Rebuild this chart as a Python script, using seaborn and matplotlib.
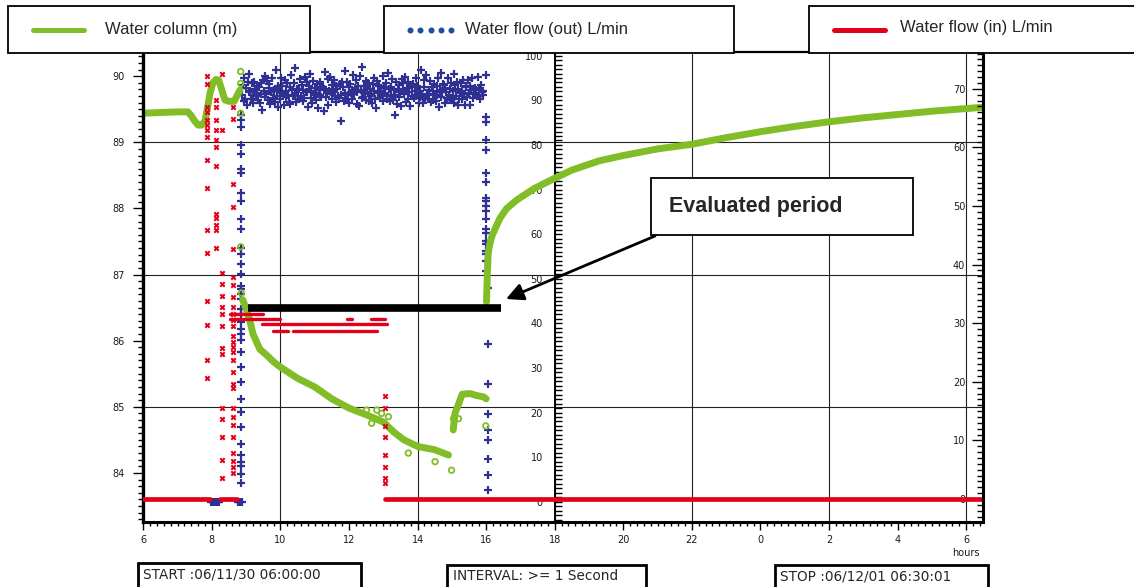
import numpy as np
import pandas as pd
import matplotlib.pyplot as plt
import matplotlib.transforms as mtransforms
from matplotlib.patches import Rectangle, FancyArrowPatch
from matplotlib.lines import Line2D
from matplotlib.ticker import MultipleLocator, FixedLocator, FixedFormatter
import seaborn as sns

# ---- water column (m), left axis ----
col_a_hours = [6.0, 6.5, 7.0, 7.3, 7.4, 7.5, 7.6, 7.7, 7.8, 7.88, 7.95, 8.03, 8.12, 8.2, 8.29,
               8.38, 8.5, 8.65, 8.72, 8.82]
col_a_level = [89.44, 89.45, 89.46, 89.46, 89.4, 89.32, 89.26, 89.26, 89.32, 89.55, 89.75, 89.9,
               89.95, 89.94, 89.79, 89.64, 89.62, 89.62, 89.69, 89.79]
col_b_hours = [8.9, 9.0, 9.1, 9.2, 9.4, 9.6, 9.8, 10.0, 10.5, 11.0, 11.5, 12.0, 12.5, 13.0,
               13.3, 13.6, 14.0, 14.5, 14.9]
col_b_level = [86.62, 86.48, 86.32, 86.1, 85.87, 85.78, 85.68, 85.6, 85.43, 85.3, 85.12, 84.98,
               84.88, 84.77, 84.62, 84.5, 84.4, 84.35, 84.27]
col_c_hours = [15.04, 15.09, 15.14, 15.19, 15.25, 15.3, 15.53, 15.72, 15.92, 16.0]
col_c_level = [84.65, 84.9, 84.97, 85.03, 85.12, 85.19, 85.2, 85.17, 85.15, 85.12]
col_d_hours = [16.01, 16.04, 16.06, 16.1, 16.16, 16.25, 16.4, 16.6, 16.9, 17.4, 17.9, 18.5,
               19.3, 20.0, 21.0, 22.0, 23.0, 24.0, 25.0, 26.0, 27.0, 28.0, 29.0, 30.0, 30.5]
col_d_level = [86.59, 87.09, 87.32, 87.45, 87.57, 87.68, 87.85, 88.0, 88.13, 88.3, 88.43, 88.58,
               88.72, 88.8, 88.9, 88.97, 89.07, 89.16, 89.24, 89.31, 89.37, 89.42, 89.47, 89.51,
               89.53]
col_pts_hours = [8.84, 8.84, 8.84, 8.84, 8.86, 12.51, 12.66, 12.81, 12.95, 13.15, 13.73, 14.51,
                 14.99, 15.05, 15.19, 15.99]
col_pts_level = [90.07, 89.89, 89.44, 87.42, 86.72, 84.95, 84.75, 84.95, 84.9, 84.85, 84.3, 84.17,
                 84.04, 84.82, 84.82, 84.71]

# ---- water flow out (L/min), middle axis ----
out_band_start, out_band_end = 8.88, 15.92
out_band = [
    91.2, 93.5, 89.8, 95.1, 90.4, 92.7, 88.9, 94.2, 91.8, 96.0,
    92.0, 90.3, 93.8, 91.1, 89.5, 94.0, 92.5, 90.9, 93.3, 91.7,
    90.1, 92.9, 89.3, 93.8, 91.5, 87.9, 94.6, 92.1, 90.7, 95.4,
    91.4, 94.3, 90.0, 92.8, 93.6, 89.2, 91.9, 95.1, 90.6, 92.2,
    92.4, 89.6, 96.8, 91.0, 93.2, 88.4, 92.8, 90.3, 94.9, 91.7,
    93.1, 91.5, 88.9, 94.5, 92.0, 90.8, 93.9, 91.2, 89.7, 92.9,
    89.1, 95.7, 92.3, 90.9, 93.9, 91.4, 97.2, 89.7, 92.6, 90.2,
    90.2, 92.6, 94.8, 91.0, 93.4, 89.9, 92.3, 90.5, 95.3, 91.8,
    94.1, 91.9, 88.6, 93.3, 95.8, 90.6, 92.0, 89.4, 94.4, 91.1,
    92.7, 90.1, 91.6, 93.7, 88.3, 92.4, 94.2, 91.3, 90.7, 93.0,
    93.0, 87.6, 92.5, 96.3, 90.8, 91.6, 94.7, 89.0, 92.2, 95.2,
    91.9, 93.5, 90.4, 92.1, 94.6, 91.0, 89.6, 93.2, 92.6, 90.9,
    90.5, 93.6, 85.4, 91.3, 94.0, 92.9, 89.9, 96.5, 91.7, 90.0,
    94.0, 91.2, 92.9, 89.4, 93.6, 91.7, 90.3, 95.7, 92.2, 91.5,
    92.8, 94.5, 89.2, 91.9, 93.1, 88.7, 95.5, 92.4, 90.6, 97.5,
    90.8, 93.3, 91.8, 94.4, 90.0, 92.7, 93.8, 89.8, 91.4, 92.5,
    91.0, 89.5, 93.7, 92.0, 95.0, 90.3, 88.2, 94.3, 91.6, 93.4,
    93.2, 90.6, 92.0, 91.1, 95.4, 89.9, 92.8, 91.6, 93.9, 90.2,
    90.9, 96.1, 92.6, 89.8, 93.0, 91.2, 94.8, 90.1, 92.3, 86.6,
    91.3, 94.1, 89.1, 92.6, 90.7, 93.5, 91.9, 88.7, 94.7, 92.3,
    93.9, 91.4, 95.3, 89.6, 92.7, 90.4, 94.1, 91.8, 88.8, 93.5,
    92.9, 91.0, 93.7, 90.5, 92.1, 95.0, 90.9, 93.1, 91.7, 89.5,
    92.1, 90.7, 96.7, 91.5, 89.4, 94.6, 92.9, 90.2, 95.6, 91.3,
    90.4, 92.4, 91.5, 94.3, 89.7, 93.0, 92.2, 90.1, 93.6, 91.2,
    89.9, 93.2, 91.1, 94.9, 88.5, 92.4, 90.8, 96.2, 91.9, 93.7,
    93.4, 89.3, 92.7, 91.8, 90.6, 94.9, 91.1, 92.5, 90.0, 93.8,
    90.6, 92.0, 95.9, 89.3, 93.4, 91.0, 94.2, 88.9, 92.6, 90.4,
    91.6, 93.9, 90.3, 92.0, 94.5, 91.4, 89.0, 92.9, 93.3, 90.8,
    94.5, 91.7, 89.0, 93.1, 92.3, 95.0, 90.5, 91.4, 92.8, 91.6,
    92.3, 90.9, 95.2, 91.0, 92.6, 90.2, 93.5, 91.9, 92.1, 91.3,
]
out_rise_hour = 8.85
out_rise = [86.7, 85.6, 84.0, 80.0, 78.0, 74.7, 73.6, 69.3, 67.5, 63.4, 61.2, 56.9, 55.5, 53.3,
            51.0, 48.3, 47.6, 46.5, 45.4, 43.1, 42.0, 40.4, 38.8, 37.7, 36.3, 33.6, 30.2, 26.9,
            23.0, 20.1, 16.7, 12.9, 10.4, 8.8, 8.1, 6.1, 4.3]
out_drop_hi_hour = 16.0
out_drop_hi = [95.7, 86.2, 85.1, 81.0, 78.8, 73.8, 71.6, 68.2, 67.5, 66.4, 65.2, 63.4, 61.2, 60.3,
               58.5, 57.8, 56.2, 55.5, 53.9, 51.7]
out_drop_lo_hour = 16.05
out_drop_lo = [47.9, 35.4, 26.4, 19.6, 16.0, 13.8, 9.5, 5.9, 2.7]
out_zero_hours = [7.97, 8.01, 8.05, 8.09, 8.13, 8.17, 8.21, 8.75, 8.79, 8.83, 8.87]

# ---- water flow in (L/min), right axis ----
in_cols_hours = [7.86, 8.13, 8.29, 8.62, 13.05]
in_cols = [
    [72.1, 70.9, 66.9, 66.1, 64.7, 63.8, 62.9, 61.8, 57.8, 53.0, 45.9, 41.9, 33.8, 29.7, 23.7, 20.7],
    [68.1, 66.9, 64.7, 62.9, 61.2, 60.0, 56.9, 48.7, 47.9, 46.7, 45.9, 42.8],
    [72.6, 62.9, 38.5, 36.7, 34.6, 32.8, 31.6, 29.6, 25.7, 24.8, 15.5, 13.7, 10.6, 6.6, 3.5],
    [66.9, 64.8, 53.8, 49.8, 42.7, 37.9, 36.5, 34.5, 32.8, 31.6, 30.5, 29.6, 27.9, 26.8, 25.9,
     25.1, 23.7, 21.7, 19.7, 18.9, 15.5, 14.0, 12.6, 10.6, 7.8, 6.4, 5.5, 4.4],
    [17.6, 15.5, 12.5, 10.6, 7.5, 5.5, 3.5, 2.7],
]
in_plateau_start = [8.53, 8.53, 9.45, 9.79, 10.37, 11.93, 12.63]
in_plateau_end = [9.50, 9.99, 13.10, 10.23, 12.81, 12.08, 13.05]
in_plateau_level = [31.5, 30.7, 29.8, 28.7, 28.7, 30.7, 30.7]
in_zero_start = [6.0, 8.24, 13.05]
in_zero_end = [7.95, 8.72, 30.5]

# evaluated period bar (left axis units)
eval_start, eval_end, eval_level = 9.06, 16.42, 86.5

x_ticks = [6, 8, 10, 12, 14, 16, 18, 20, 22, 24, 26, 28, 30]
x_labels = ['6', '8', '10', '12', '14', '16', '18', '20', '22', '0', '2', '4', '6']

GREEN = '#80BD26'
NAVY = '#2E3192'
RED = '#E2001A'

sns.set_theme(style='white')
plt.rcParams['font.family'] = ['DejaVu Sans']

W, H = 1134, 587


def fx(px):
    return px / W


def fy(py):
    return 1 - py / H


fig = plt.figure(figsize=(W / 100, H / 100), dpi=100)
fig.patch.set_facecolor('white')
ax_out = fig.add_axes([fx(143.3), fy(521.5), (983.3 - 143.3) / W, (521.5 - 51.7) / H])
ax_col = ax_out.twinx()
ax_in = ax_out.twinx()
ax_out.set_zorder(0)
ax_col.set_zorder(1)
ax_in.set_zorder(2)

ax_out.set_xlim(6, 30.5)
ax_out.set_ylim(-4.44, 100.9)
ax_col.set_ylim(83.265, 90.37)
ax_in.set_ylim(-3.84, 76.33)

# grid (vertical every 4 h, horizontal on the water column scale)
for xv in [10, 14, 18, 22, 26, 30]:
    ax_out.axvline(xv, color='#222222', lw=0.8, zorder=0.5)
grid_tr = mtransforms.blended_transform_factory(ax_out.transAxes, ax_col.transData)
for lv in [89, 87, 85]:
    ax_out.plot([0, 1], [lv, lv], transform=grid_tr, color='#222222', lw=0.8, zorder=0.5)

# ---- blue: flow out ----
out_frames = [
    pd.DataFrame({'hours': np.linspace(out_band_start, out_band_end, len(out_band)), 'flow': out_band}),
    pd.DataFrame({'hours': [out_rise_hour] * len(out_rise), 'flow': out_rise}),
    pd.DataFrame({'hours': [out_drop_hi_hour] * len(out_drop_hi), 'flow': out_drop_hi}),
    pd.DataFrame({'hours': [out_drop_lo_hour] * len(out_drop_lo), 'flow': out_drop_lo}),
    pd.DataFrame({'hours': out_zero_hours, 'flow': [0.0] * len(out_zero_hours)}),
]
flow_out = pd.concat(out_frames, ignore_index=True)
sns.scatterplot(data=flow_out, x='hours', y='flow', marker='+', s=30, color=NAVY,
                linewidth=1.6, ax=ax_out, zorder=2, legend=False)

# ---- green: water column ----
segs = []
for i, (hh, lv) in enumerate([(col_a_hours, col_a_level), (col_b_hours, col_b_level),
                              (col_c_hours, col_c_level), (col_d_hours, col_d_level)]):
    segs.append(pd.DataFrame({'hours': hh, 'level': lv, 'seg': i}))
water = pd.concat(segs, ignore_index=True)
sns.lineplot(data=water, x='hours', y='level', units='seg', estimator=None, sort=False,
             color=GREEN, lw=5.0, ax=ax_col, legend=False)
sns.scatterplot(x=col_pts_hours, y=col_pts_level, marker='o', s=16, facecolor='none',
                edgecolor=GREEN, linewidth=1.3, ax=ax_col, legend=False)

# ---- red: flow in ----
zero_rows = []
for i, (a, b) in enumerate(zip(in_zero_start, in_zero_end)):
    zero_rows.append(pd.DataFrame({'hours': [a, b], 'flow': [0.0, 0.0], 'seg': i}))
plat_rows = []
for i, (a, b, lv) in enumerate(zip(in_plateau_start, in_plateau_end, in_plateau_level)):
    plat_rows.append(pd.DataFrame({'hours': [a, b], 'flow': [lv, lv], 'seg': i}))
sns.lineplot(data=pd.concat(zero_rows, ignore_index=True), x='hours', y='flow', units='seg',
             estimator=None, sort=False, color=RED, lw=3.4, ax=ax_in, legend=False)
sns.lineplot(data=pd.concat(plat_rows, ignore_index=True), x='hours', y='flow', units='seg',
             estimator=None, sort=False, color=RED, lw=2.4, ax=ax_in, legend=False)
col_frames = [pd.DataFrame({'hours': [h] * len(v), 'flow': v}) for h, v in zip(in_cols_hours, in_cols)]
sns.scatterplot(data=pd.concat(col_frames, ignore_index=True), x='hours', y='flow', marker='x',
                s=10, color=RED, linewidth=1.5, ax=ax_in, legend=False)

# evaluated period bar
ax_in.plot([eval_start, eval_end], [eval_level, eval_level], transform=ax_col.transData,
           color='black', lw=5.5, solid_capstyle='butt', zorder=5)

for a in (ax_out, ax_col, ax_in):
    a.set_xlabel('')
    a.set_ylabel('')
    a.grid(False)

# ---- spines and ticks ----
tick_font = dict(labelsize=7, labelcolor='#1a1a1a', color='black')
ax_out.spines['right'].set_visible(False)
ax_out.spines['left'].set_position(('data', 18))
ax_out.spines['left'].set_linewidth(1.4)
ax_out.spines['bottom'].set_linewidth(2.2)
ax_out.spines['top'].set_linewidth(1.6)
for s in ax_out.spines.values():
    s.set_color('black')
ax_out.xaxis.set_major_locator(FixedLocator(x_ticks))
ax_out.xaxis.set_major_formatter(FixedFormatter(x_labels))
ax_out.xaxis.set_minor_locator(MultipleLocator(0.2))
ax_out.tick_params(axis='x', which='both', bottom=True, top=False, direction='out', width=1,
                   pad=3.5, **tick_font)
ax_out.tick_params(axis='x', which='major', length=6)
ax_out.tick_params(axis='x', which='minor', length=3.2)
ax_out.yaxis.set_ticks_position('left')
ax_out.yaxis.set_major_locator(MultipleLocator(10))
ax_out.yaxis.set_minor_locator(MultipleLocator(1))
ax_out.tick_params(axis='y', which='both', direction='in', width=1, pad=8.5, length=5,
                   **tick_font)

for name in ('right', 'top', 'bottom'):
    ax_col.spines[name].set_visible(False)
ax_col.spines['left'].set_visible(True)
ax_col.spines['left'].set_position(('axes', 0))
ax_col.spines['left'].set_linewidth(2.4)
ax_col.spines['left'].set_color('black')
ax_col.yaxis.set_ticks_position('left')
ax_col.yaxis.set_label_position('left')
ax_col.yaxis.set_major_locator(MultipleLocator(1))
ax_col.yaxis.set_minor_locator(MultipleLocator(0.1))
ax_col.tick_params(axis='y', which='both', direction='out', width=1, pad=6.5, **tick_font)
ax_col.tick_params(axis='y', which='major', length=7)
ax_col.tick_params(axis='y', which='minor', length=3.6)

for name in ('right', 'top', 'bottom'):
    ax_in.spines[name].set_visible(False)
ax_in.spines['left'].set_visible(True)
ax_in.spines['left'].set_position(('axes', 1.0))
ax_in.spines['left'].set_linewidth(2.2)
ax_in.spines['left'].set_color('black')
ax_in.yaxis.set_ticks_position('left')
ax_in.yaxis.set_label_position('left')
ax_in.yaxis.set_major_locator(FixedLocator(list(range(0, 80, 10))))
ax_in.yaxis.set_minor_locator(MultipleLocator(1))
ax_in.tick_params(axis='y', which='both', direction='out', width=1, pad=5, **tick_font)
ax_in.tick_params(axis='y', which='major', length=8)
ax_in.tick_params(axis='y', which='minor', length=4.3)

ax_out.text(30, -0.066, 'hours', transform=ax_out.get_xaxis_transform(), ha='center',
            va='center', fontsize=7, color='#1a1a1a')

# ---- legend boxes on top ----
def box(x0, y0, x1, y1, lw=1.3):
    fig.add_artist(Rectangle((fx(x0), fy(y1)), fx(x1) - fx(x0), fy(y0) - fy(y1),
                             transform=fig.transFigure, facecolor='white', edgecolor='black',
                             lw=lw, zorder=5))


box(8, 6, 310, 52.5)
box(384, 6, 734, 52.5)
box(809, 6, 1140, 52.5)
fig.add_artist(Line2D([fx(33), fx(84)], [fy(30), fy(30)], transform=fig.transFigure,
                      color=GREEN, lw=3.6, zorder=6))
fig.add_artist(Line2D([fx(410 + 10.25 * k) for k in range(5)], [fy(30)] * 5,
                      transform=fig.transFigure, ls='none', marker='o', ms=3.3,
                      color='#1D4F9C', zorder=6))
fig.add_artist(Line2D([fx(834), fx(885)], [fy(30), fy(30)], transform=fig.transFigure,
                      color=RED, lw=3.6, zorder=6))
leg_font = dict(fontsize=12, family=['Liberation Sans', 'DejaVu Sans'], va='center',
                ha='left', zorder=7)
fig.text(fx(105), fy(29.5), 'Water column (m)', **leg_font)
fig.text(fx(465), fy(29.5), 'Water flow (out) L/min', **leg_font)
fig.text(fx(900), fy(27.5), 'Water flow (in) L/min', **leg_font)

# ---- evaluated period callout ----
box(651, 178, 913, 235, lw=1.3)
fig.text(fx(669), fy(207), 'Evaluated period', fontsize=15.5, fontweight='bold',
         family=['Liberation Sans', 'DejaVu Sans'], va='center', ha='left', zorder=7)
fig.add_artist(FancyArrowPatch((fx(655), fy(236)), (fx(506), fy(299)),
                               transform=fig.transFigure, arrowstyle='-|>', mutation_scale=26,
                               lw=2.0, color='black', shrinkA=0, shrinkB=0, zorder=7))

# ---- bottom info boxes ----
box(138, 563, 361, 600, lw=2.0)
box(447, 565, 646, 600, lw=2.0)
box(775, 565, 988, 600, lw=2.0)
info_font = dict(fontsize=9.8, family=['DejaVu Sans'], va='center', ha='left', zorder=7)
fig.text(fx(143), fy(575), 'START :06/11/30 06:00:00', **info_font)
fig.text(fx(453), fy(576), 'INTERVAL: >= 1 Second', **info_font)
fig.text(fx(780), fy(576), 'STOP :06/12/01 06:30:01', **info_font)

fig.savefig('out.png', dpi=100)
